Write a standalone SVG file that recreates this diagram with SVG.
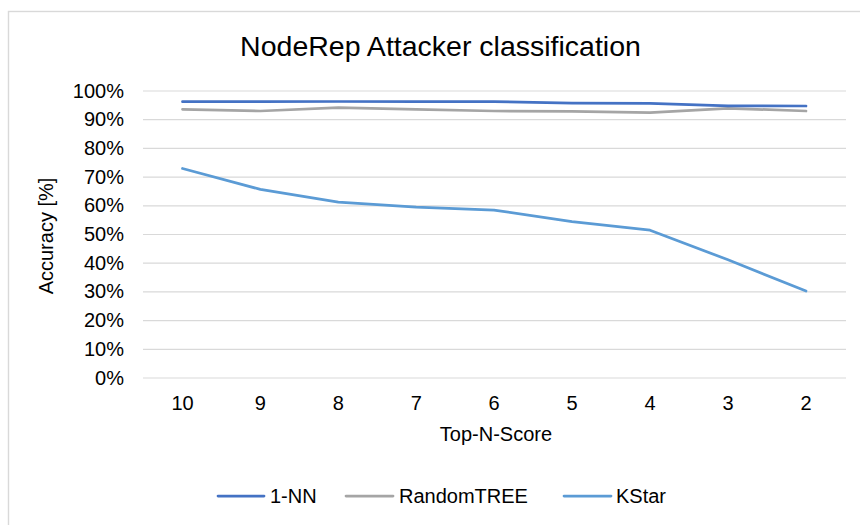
<svg xmlns="http://www.w3.org/2000/svg" width="860" height="525" viewBox="0 0 860 525">
<style>
text{font-family:"Liberation Sans",Arial,Helvetica,sans-serif;fill:#000}
.grid{stroke:#d9d9d9;stroke-width:1.2}
.yt{font-size:20px;text-anchor:end}
.xt{font-size:20px;text-anchor:middle}
.s{fill:none;stroke-width:2.75;stroke-linejoin:round;stroke-linecap:round}
.nn{stroke:#4472c4}
.rt{stroke:#a5a5a5}
.ks{stroke:#5b9bd5}
.lg{font-size:20px}
</style>
<rect x="0" y="0" width="860" height="525" fill="#ffffff"/>
<rect x="8.5" y="11.5" width="900" height="600" fill="#ffffff" stroke="#d9d9d9" stroke-width="1.4"/>
<text id="title" x="440.5" y="56" font-size="28.5" text-anchor="middle">NodeRep Attacker classification</text>
<g id="gridlines">
<line class="grid" x1="143" y1="91" x2="846" y2="91"/>
<line class="grid" x1="143" y1="119.7" x2="846" y2="119.7"/>
<line class="grid" x1="143" y1="148.4" x2="846" y2="148.4"/>
<line class="grid" x1="143" y1="177.1" x2="846" y2="177.1"/>
<line class="grid" x1="143" y1="205.8" x2="846" y2="205.8"/>
<line class="grid" x1="143" y1="234.5" x2="846" y2="234.5"/>
<line class="grid" x1="143" y1="263.2" x2="846" y2="263.2"/>
<line class="grid" x1="143" y1="291.9" x2="846" y2="291.9"/>
<line class="grid" x1="143" y1="320.6" x2="846" y2="320.6"/>
<line class="grid" x1="143" y1="349.3" x2="846" y2="349.3"/>
<line class="grid" x1="143" y1="378" x2="846" y2="378"/>
</g>
<g id="y-ticks">
<text class="yt" x="124" y="97.5">100%</text>
<text class="yt" x="124" y="126.2">90%</text>
<text class="yt" x="124" y="154.9">80%</text>
<text class="yt" x="124" y="183.6">70%</text>
<text class="yt" x="124" y="212.3">60%</text>
<text class="yt" x="124" y="241">50%</text>
<text class="yt" x="124" y="269.7">40%</text>
<text class="yt" x="124" y="298.4">30%</text>
<text class="yt" x="124" y="327.1">20%</text>
<text class="yt" x="124" y="355.8">10%</text>
<text class="yt" x="124" y="384.5">0%</text>
</g>
<text id="y-title" transform="translate(53,236) rotate(-90)" font-size="20" text-anchor="middle">Accuracy [%]</text>
<g id="x-ticks">
<text class="xt" x="182.5" y="410">10</text>
<text class="xt" x="260.4" y="410">9</text>
<text class="xt" x="338.3" y="410">8</text>
<text class="xt" x="416.2" y="410">7</text>
<text class="xt" x="494" y="410">6</text>
<text class="xt" x="572" y="410">5</text>
<text class="xt" x="650" y="410">4</text>
<text class="xt" x="728" y="410">3</text>
<text class="xt" x="806" y="410">2</text>
</g>
<text id="x-title" x="496" y="441" font-size="20" text-anchor="middle">Top-N-Score</text>
<g id="series">
<polyline id="s-randomtree" class="s rt" points="182.5,109.3 260.4,111 338.3,107.7 416.2,109.3 494,111 572,111.3 650,112.7 728,108.3 806,111"/>
<polyline id="s-1nn" class="s nn" points="182.5,101.7 260.4,101.7 338.3,101.5 416.2,101.5 494,101.7 572,103.1 650,103.3 728,105.8 806,106"/>
<polyline id="s-kstar" class="s ks" points="182.5,168.5 260.4,189.4 338.3,202.1 416.2,207.2 494,210.1 572,221.6 650,230.2 728,259.8 806,291"/>
</g>
<g id="legend">
<line class="s nn" x1="218" y1="496" x2="264" y2="496"/>
<text class="lg" x="270" y="502.5">1-NN</text>
<line class="s rt" x1="346" y1="496" x2="393" y2="496"/>
<text class="lg" x="399" y="502.5">RandomTREE</text>
<line class="s ks" x1="564" y1="496" x2="611" y2="496"/>
<text class="lg" x="616" y="502.5">KStar</text>
</g>
</svg>
